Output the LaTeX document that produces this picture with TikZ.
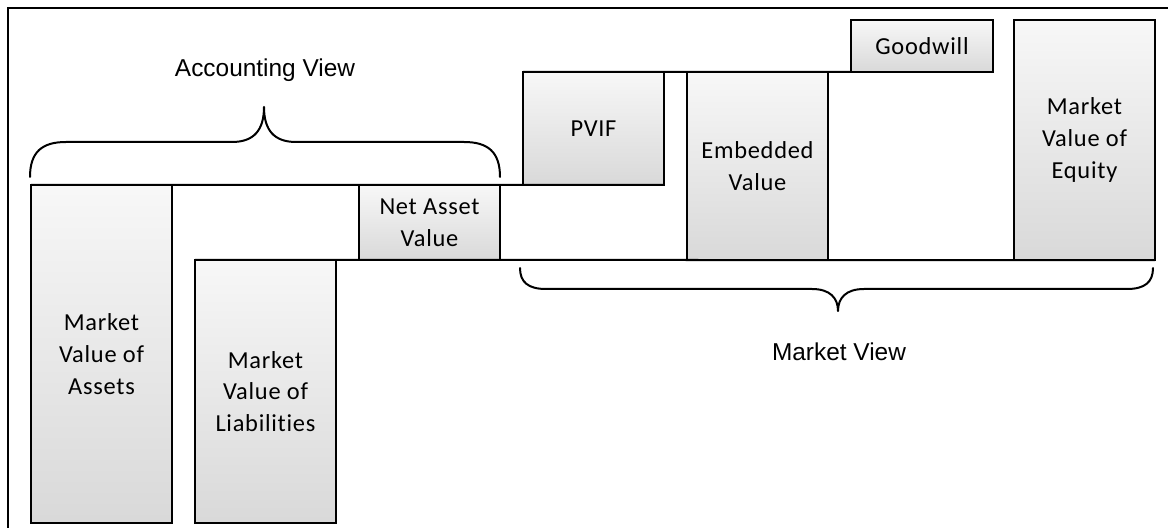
\documentclass[tikz,border=0pt]{standalone}
\usepackage{fontspec}
\setmainfont{Liberation Sans}
\newfontfamily\boxfont[Ligatures=NoCommon, LetterSpace=3]{Carlito}
\begin{document}
\begin{tikzpicture}[x=1bp,y=-1bp,
  bar/.style={draw=black, line width=2bp, top color=white!97!black, bottom color=black!15,
    align=center, font=\boxfont\fontsize{24.5}{32}\selectfont, inner sep=0pt, outer sep=0pt,
    anchor=north west, minimum width=141bp},
  rule/.style={line width=2bp},
  bracestyle/.style={line width=2bp, line cap=round, line join=round},
  lbl/.style={font=\fontsize{24.5}{29}\selectfont, inner sep=0pt}]
\useasboundingbox (0,0) rectangle (1168,528);
% frame
\coordinate (fbl) at (8,530);
\coordinate (ftl) at (8,8);
\coordinate (ftr) at (1170,8);
\draw[rule] (fbl) -- (ftl) -- (ftr);
% bars
\node[bar, minimum height=338bp] (assets) at (31,185) {Market\\Value of\\Assets};
\node[bar, minimum height=263bp] (liab) at (195,260) {Market\\Value of\\Liabilities};
\node[bar, minimum height=75bp] (nav) at (359,185) {Net Asset\\Value};
\node[bar, minimum height=113bp] (pvif) at (523,72) {PVIF};
\node[bar, minimum height=188bp] (emb) at (687,72) {Embedded\\Value};
\node[bar, minimum height=52bp, minimum width=142bp] (good) at (851,20) {Goodwill};
\node[bar, minimum height=240bp] (equity) at (1014,20) {Market\\Value of\\Equity};
% level lines
\draw[rule] (assets.north west) -- (pvif.south east);
\draw[rule] (liab.north west) -- (equity.south east);
\draw[rule] (pvif.north west) -- (good.south west);
% accounting brace
\coordinate (abl) at (30,177);
\coordinate (abt) at (264,107);
\coordinate (abr) at (500,177);
\draw[bracestyle] (abl) .. controls (30,152) and (42,142) .. (66,142)
  -- (232,142) .. controls (254,142) and (264,130) .. (abt)
  .. controls (264,130) and (274,142) .. (296,142)
  -- (464,142) .. controls (488,142) and (500,152) .. (abr);
% market brace
\coordinate (mbl) at (520,268);
\coordinate (mbt) at (838,311);
\coordinate (mbr) at (1153,268);
\draw[bracestyle] (mbl) .. controls (520,282) and (528,289) .. (546,289)
  -- (812,289) .. controls (830,289) and (838,298) .. (mbt)
  .. controls (838,298) and (846,289) .. (864,289)
  -- (1127,289) .. controls (1145,289) and (1153,282) .. (mbr);
% labels
\node[lbl] (acc) at (265,70) {Accounting View};
\node[lbl] (mkt) at (839,352) {Market View};
\end{tikzpicture}
\end{document}
